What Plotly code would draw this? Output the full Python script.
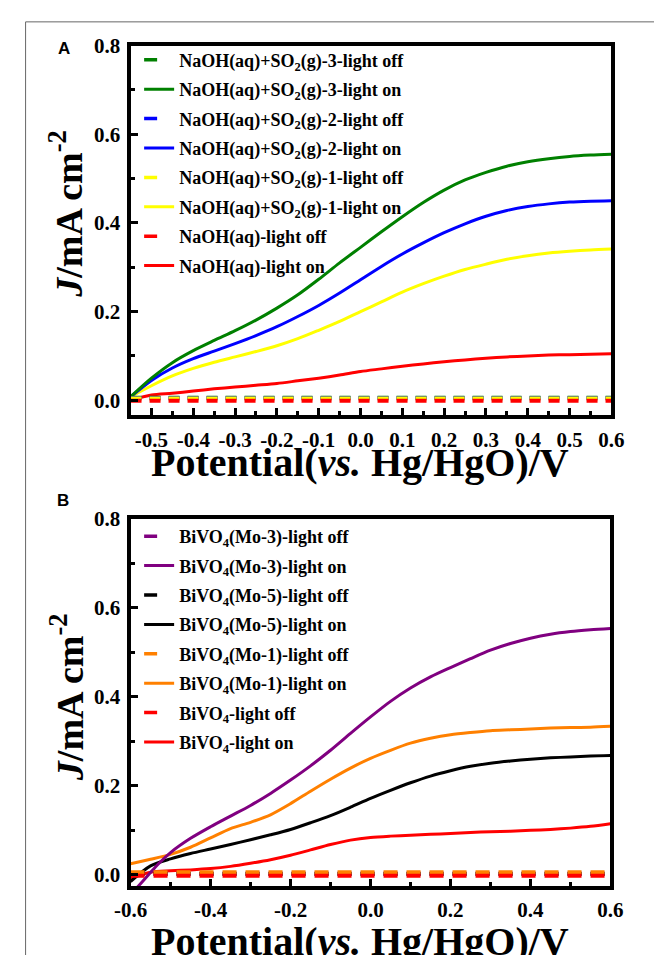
import plotly.graph_objects as go

W, H = 654, 955

# ---------------- Panel A data ----------------
xa = [-0.55, -0.5, -0.45, -0.4, -0.35, -0.3, -0.25, -0.2, -0.15, -0.1, -0.05, 0.0,
      0.05, 0.1, 0.15, 0.2, 0.25, 0.3, 0.35, 0.4, 0.45, 0.5, 0.55, 0.6]
so2_3_on = [0.008, 0.05, 0.085, 0.112, 0.135, 0.157, 0.181, 0.208, 0.238, 0.273, 0.31, 0.345,
            0.38, 0.414, 0.446, 0.474, 0.497, 0.514, 0.528, 0.538, 0.545, 0.55, 0.553, 0.555]
so2_2_on = [0.008, 0.045, 0.073, 0.094, 0.111, 0.128, 0.146, 0.166, 0.189, 0.214, 0.242, 0.272,
            0.302, 0.33, 0.355, 0.378, 0.398, 0.415, 0.428, 0.437, 0.443, 0.447, 0.449, 0.45]
so2_1_on = [0.008, 0.033, 0.055, 0.072, 0.086, 0.098, 0.11, 0.123, 0.139, 0.158, 0.178, 0.2,
            0.222, 0.244, 0.263, 0.28, 0.295, 0.307, 0.318, 0.326, 0.332, 0.336, 0.339, 0.341]
naoh_on = [0.0, 0.012, 0.016, 0.021, 0.026, 0.03, 0.034, 0.038, 0.044, 0.05, 0.057, 0.065,
           0.071, 0.077, 0.082, 0.087, 0.091, 0.095, 0.098, 0.1, 0.102, 0.103, 0.104, 0.105]
xa_off = [-0.55, 0.6]
so2_3_off = [0.006, 0.006]
so2_2_off = [0.005, 0.005]
so2_1_off = [0.004, 0.004]
naoh_off = [-0.001, -0.001]

names_a = ["NaOH(aq)+SO<sub>2</sub>(g)-3-light off", "NaOH(aq)+SO<sub>2</sub>(g)-3-light on",
           "NaOH(aq)+SO<sub>2</sub>(g)-2-light off", "NaOH(aq)+SO<sub>2</sub>(g)-2-light on",
           "NaOH(aq)+SO<sub>2</sub>(g)-1-light off", "NaOH(aq)+SO<sub>2</sub>(g)-1-light on",
           "NaOH(aq)-light off", "NaOH(aq)-light on"]
xa_tickvals = [-0.5, -0.4, -0.3, -0.2, -0.1, 0.0, 0.1, 0.2, 0.3, 0.4, 0.5, 0.6]
xa_ticktext = ["-0.5", "-0.4", "-0.3", "-0.2", "-0.1", "0.0", "0.1", "0.2", "0.3", "0.4", "0.5", "0.6"]

# ---------------- Panel B data ----------------
xb = [-0.6, -0.55, -0.5, -0.45, -0.4, -0.35, -0.3, -0.25, -0.2, -0.15, -0.1, -0.05, 0.0,
      0.05, 0.1, 0.15, 0.2, 0.25, 0.3, 0.35, 0.4, 0.45, 0.5, 0.55, 0.6]
xb_mo3 = [-0.585, -0.57, -0.555, -0.53, -0.5, -0.45, -0.4, -0.35, -0.3, -0.25, -0.2, -0.15, -0.1,
          -0.05, 0.0, 0.05, 0.1, 0.15, 0.2, 0.25, 0.3, 0.35, 0.4, 0.45, 0.5, 0.55, 0.6]
mo3_on = [-0.03, -0.015, 0.0, 0.025, 0.05, 0.082, 0.108, 0.132, 0.156, 0.183, 0.213, 0.245, 0.28,
          0.318, 0.355, 0.39, 0.42, 0.445, 0.466, 0.486, 0.505, 0.52, 0.532, 0.541, 0.547, 0.551, 0.554]
mo5_on = [-0.015, 0.02, 0.036, 0.048, 0.058, 0.068, 0.079, 0.09, 0.102, 0.117, 0.133, 0.152, 0.172,
          0.19, 0.207, 0.222, 0.234, 0.244, 0.251, 0.256, 0.26, 0.263, 0.265, 0.267, 0.268]
mo1_on = [0.025, 0.035, 0.046, 0.062, 0.083, 0.104, 0.118, 0.135, 0.16, 0.188, 0.215, 0.24, 0.262,
          0.28, 0.296, 0.307, 0.315, 0.32, 0.324, 0.326, 0.328, 0.33, 0.331, 0.332, 0.334]
bivo4_on = [-0.008, 0.006, 0.009, 0.011, 0.014, 0.019, 0.026, 0.034, 0.044, 0.056, 0.068, 0.078, 0.084,
            0.087, 0.089, 0.091, 0.093, 0.095, 0.097, 0.098, 0.1, 0.102, 0.105, 0.109, 0.115]
xb_off = [-0.6, 0.6]
mo3_off = [0.003, 0.003]
mo5_off = [0.002, 0.002]
mo1_off = [0.006, 0.006]
bivo4_off = [-0.002, -0.002]

names_b = ["BiVO<sub>4</sub>(Mo-3)-light off", "BiVO<sub>4</sub>(Mo-3)-light on",
           "BiVO<sub>4</sub>(Mo-5)-light off", "BiVO<sub>4</sub>(Mo-5)-light on",
           "BiVO<sub>4</sub>(Mo-1)-light off", "BiVO<sub>4</sub>(Mo-1)-light on",
           "BiVO<sub>4</sub>-light off", "BiVO<sub>4</sub>-light on"]
xb_tickvals = [-0.6, -0.4, -0.2, 0.0, 0.2, 0.4, 0.6]
xb_ticktext = ["-0.6", "-0.4", "-0.2", "0.0", "0.2", "0.4", "0.6"]

y_tickvals = [0.0, 0.2, 0.4, 0.6, 0.8]
y_ticktext = ["0.0", "0.2", "0.4", "0.6", "0.8"]

GREEN, BLUE, YELLOW, RED = "#008000", "#0000ff", "#ffff00", "#ff0000"
PURPLE, BLACK, ORANGE = "#800080", "#000000", "#ff8000"

fig = go.Figure()

def solid(x, y, color, xa_, ya_):
    fig.add_trace(go.Scatter(x=x, y=y, mode="lines", xaxis=xa_, yaxis=ya_, showlegend=False,
                             line=dict(color=color, width=3, shape="spline", smoothing=0.8),
                             hoverinfo="skip"))

def dashed(x, y, color, xa_, ya_, pattern):
    fig.add_trace(go.Scatter(x=x, y=y, mode="lines", xaxis=xa_, yaxis=ya_, showlegend=False,
                             line=dict(color=color, width=4, dash=pattern), hoverinfo="skip"))

def legend_entry(name, color, off, leg, grp):
    fig.add_trace(go.Scatter(x=[None], y=[None], mode="lines", name=name, legend=leg,
                             showlegend=True, legendgroup=grp,
                             line=dict(color=color, width=3.5 if off else 3,
                                       dash="13px,100px" if off else "solid")))

# Panel A curves
solid(xa, naoh_on, RED, "x", "y")
solid(xa, so2_1_on, YELLOW, "x", "y")
solid(xa, so2_2_on, BLUE, "x", "y")
solid(xa, so2_3_on, GREEN, "x", "y")
dashed(xa_off, so2_3_off, GREEN, "x", "y", "11px,8px")
dashed(xa_off, so2_2_off, BLUE, "x", "y", "11px,8px")
dashed(xa_off, so2_1_off, YELLOW, "x", "y", "11px,8px")
dashed(xa_off, naoh_off, RED, "x", "y", "11px,8px")

# Panel B curves
solid(xb, bivo4_on, RED, "x2", "y2")
solid(xb, mo5_on, BLACK, "x2", "y2")
solid(xb, mo1_on, ORANGE, "x2", "y2")
solid(xb_mo3, mo3_on, PURPLE, "x2", "y2")
dashed(xb_off, mo3_off, PURPLE, "x2", "y2", "14px,9px")
dashed(xb_off, mo5_off, BLACK, "x2", "y2", "14px,9px")
dashed(xb_off, mo1_off, ORANGE, "x2", "y2", "14px,9px")
dashed(xb_off, bivo4_off, RED, "x2", "y2", "14px,9px")

for i, (name, color, off) in enumerate(zip(names_a, [GREEN, GREEN, BLUE, BLUE, YELLOW, YELLOW, RED, RED],
                                           [True, False] * 4)):
    legend_entry(name, color, off, "legend", "a%d" % i)
for i, (name, color, off) in enumerate(zip(names_b, [PURPLE, PURPLE, BLACK, BLACK, ORANGE, ORANGE, RED, RED],
                                           [True, False] * 4)):
    legend_entry(name, color, off, "legend2", "b%d" % i)

def px_x(p):
    return p / W

def px_y(p):
    return 1 - p / H

tickfont = dict(family="Liberation Serif", size=21, color="black", weight="bold")
axis_common = dict(showline=True, linecolor="black", linewidth=4, mirror=True,
                   ticks="inside", ticklen=7, tickwidth=3, tickcolor="black",
                   showgrid=False, zeroline=False, tickfont=tickfont, ticklabelstandoff=2,
                   minor=dict(ticks="inside", ticklen=4, tickwidth=2.5, tickcolor="black",
                              showgrid=False))

legfont = dict(family="Liberation Serif", size=18, color="black", weight="bold")
fig.update_layout(
    width=W, height=H, margin=dict(l=0, r=0, t=0, b=0),
    paper_bgcolor="white", plot_bgcolor="white",
    xaxis=dict(domain=[px_x(119), px_x(623)], anchor="y", range=[-0.55, 0.6],
               tickvals=xa_tickvals, ticktext=xa_ticktext,
               **{**axis_common, "minor": dict(axis_common["minor"], dtick=0.05, tick0=0)}),
    yaxis=dict(domain=[px_y(409), px_y(34)], anchor="x", range=[-0.034, 0.8],
               tickvals=y_tickvals, ticktext=y_ticktext,
               **{**axis_common, "minor": dict(axis_common["minor"], dtick=0.1, tick0=0)}),
    xaxis2=dict(domain=[px_x(119), px_x(622)], anchor="y2", range=[-0.6, 0.6],
                tickvals=xb_tickvals, ticktext=xb_ticktext,
                **{**axis_common, "minor": dict(axis_common["minor"], dtick=0.1, tick0=0)}),
    yaxis2=dict(domain=[px_y(886), px_y(514)], anchor="x2", range=[-0.025, 0.8],
                tickvals=y_tickvals, ticktext=y_ticktext,
                **{**axis_common, "minor": dict(axis_common["minor"], dtick=0.1, tick0=0)}),
    legend=dict(x=px_x(128), y=px_y(30), xanchor="left", yanchor="top",
                bgcolor="rgba(0,0,0,0)", borderwidth=0, font=legfont, tracegroupgap=3),
    legend2=dict(x=px_x(128), y=px_y(513), xanchor="left", yanchor="top",
                 bgcolor="rgba(0,0,0,0)", borderwidth=0, font=legfont, tracegroupgap=3),
)

title_font = dict(family="Liberation Serif", size=40, color="black", weight="bold")
ytitle_font = dict(family="Liberation Serif", size=38, color="black", weight="bold")
ann = [
    dict(text="A", x=px_x(49), y=px_y(37), showarrow=False,
         font=dict(family="Liberation Sans", size=17, color="black", weight="bold")),
    dict(text="B", x=px_x(48), y=px_y(495), showarrow=False,
         font=dict(family="Liberation Sans", size=17, color="black", weight="bold")),
    dict(text="Potential(<i>vs.</i> Hg/HgO)/V", x=px_x(359), y=px_y(457), showarrow=False,
         font=title_font),
    dict(text="Potential(<i>vs.</i> Hg/HgO)/V", x=px_x(359), y=px_y(942), showarrow=False,
         font=title_font),
    dict(text="<i>J</i>/mA cm<sup>-2</sup>", x=px_x(52), y=px_y(205), showarrow=False,
         textangle=-90, font=ytitle_font),
    dict(text="<i>J</i>/mA cm<sup>-2</sup>", x=px_x(52), y=px_y(695), showarrow=False,
         textangle=-90, font=ytitle_font),
]
for a in ann:
    a.update(xref="paper", yref="paper", xanchor="center", yanchor="middle")
fig.update_layout(annotations=ann)

fig.add_shape(type="rect", xref="paper", yref="paper", x0=px_x(9), x1=1.05, y0=-0.05, y1=px_y(10),
              line=dict(color="#666666", width=1), fillcolor="rgba(0,0,0,0)", layer="below")

fig.write_html("out.html",
               post_script="document.body.style.margin='0';document.body.style.overflow='hidden';")
